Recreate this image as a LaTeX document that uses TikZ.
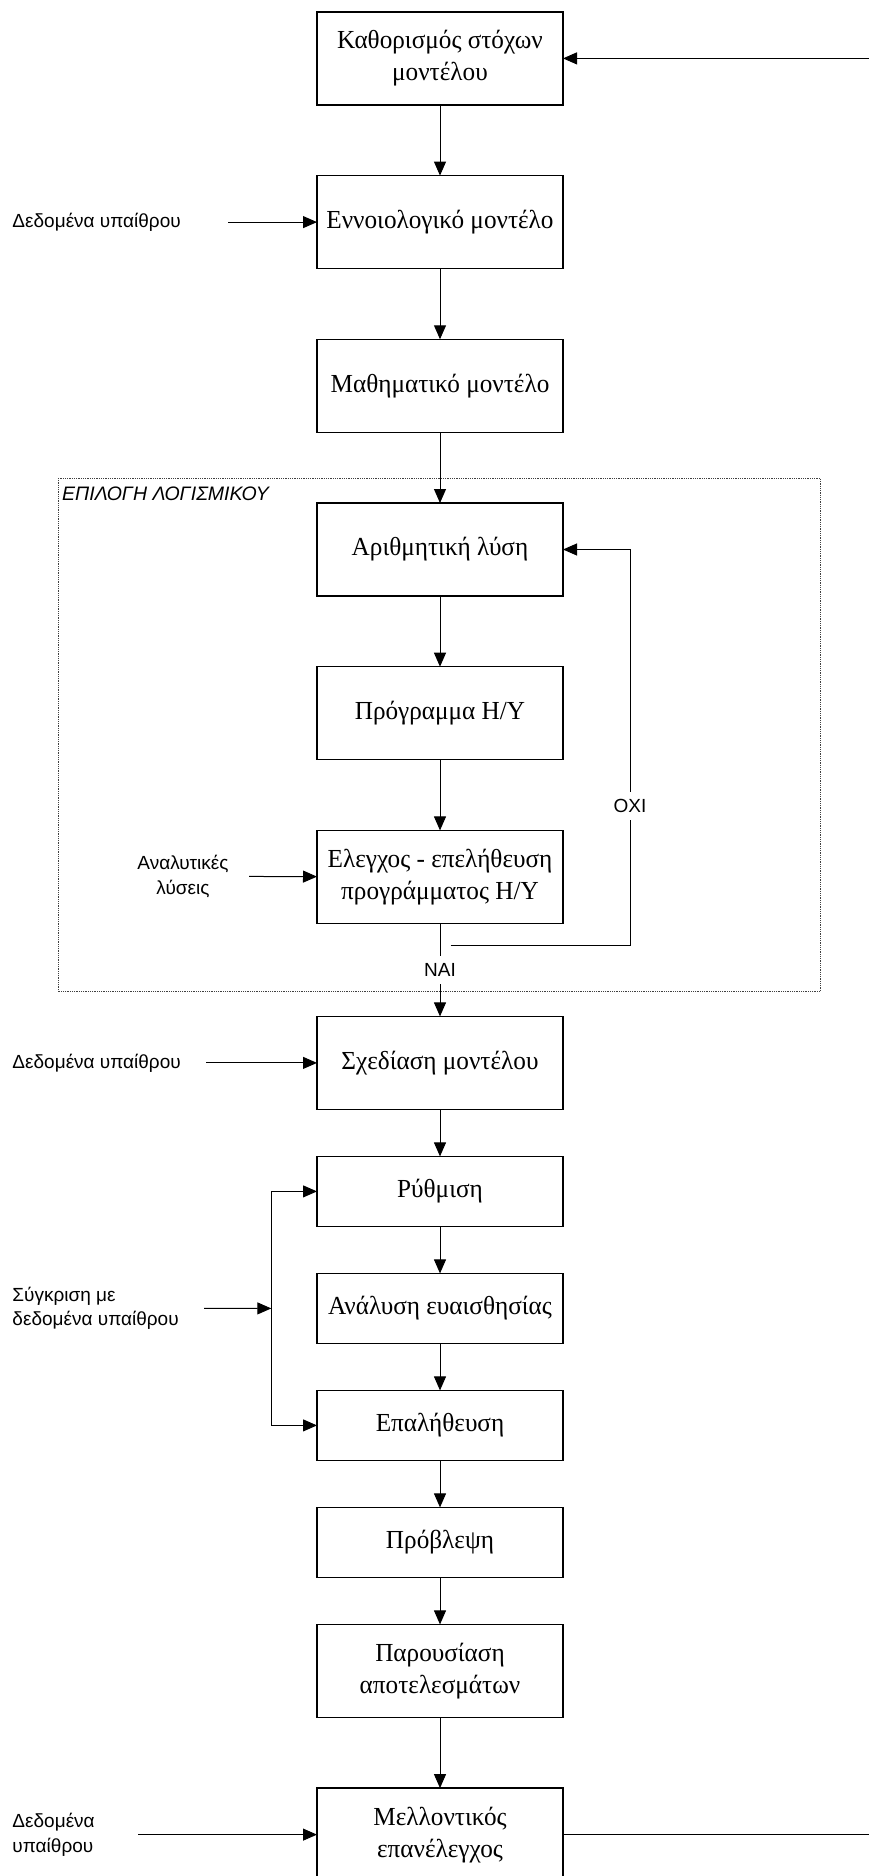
\documentclass[tikz,border=0pt]{standalone}
\usepackage{fontspec}
\setmainfont[FakeStretch=0.97]{Liberation Serif}
\setsansfont{Liberation Sans}
\usetikzlibrary{positioning,arrows.meta}

\begin{document}
\begin{tikzpicture}[x=1pt, y=1pt, node distance={70.7pt}, line width=1pt, >={Triangle[length=14pt,width=12pt]},
    box/.style = {draw, line width=1.3pt, outer sep=0pt, minimum width=246pt, minimum height=93pt, align=center, font=\fontsize{26}{32}\selectfont},
    short/.style = {box, minimum height=70pt},
    src/.style = {font=\sffamily\fontsize{19}{24.5}\selectfont, align=left, inner sep=0pt, anchor=west},
    lbl/.style = {font=\sffamily\fontsize{19}{22}\selectfont, fill=white, inner sep=0pt, minimum height=28pt}]
    \useasboundingbox (0,0) rectangle (868,-1876);
    \coordinate (lm) at (12,0);

    \node[box] (b1) at (440,-58.4) {Καθορισμός στόχων\\μοντέλου};
    \node[box] (b2) [below=of b1] {Εννοιολογικό μοντέλο};
    \node[box] (b3) [below=of b2] {Μαθηματικό μοντέλο};
    \node[box] (b4) [below=of b3] {Αριθμητική λύση};
    \node[box] (b5) [below=of b4] {Πρόγραμμα Η/Υ};
    \node[box] (b6) [below=of b5] {Ελεγχος - επελήθευση\\προγράμματος Η/Υ};
    \node[box] (b7) [below=93pt of b6] {Σχεδίαση μοντέλου};
    \node[short] (b8) [below=47pt of b7] {Ρύθμιση};
    \node[short] (b9) [below=47pt of b8] {Ανάλυση ευαισθησίας};
    \node[short] (b10) [below=47pt of b9] {Επαλήθευση};
    \node[short] (b11) [below=47pt of b10] {Πρόβλεψη};
    \node[box] (b12) [below=47pt of b11] {Παρουσίαση\\αποτελεσμάτων};
    \node[box] (b13) [below=of b12] {Μελλοντικός\\επανέλεγχος};

    % software frame
    \draw[densely dotted, line width=0.8pt, black!75] (58.3,-478) rectangle (820,-991.7);
    \node[anchor=base west, inner sep=0pt, font=\sffamily\itshape\fontsize{19.5}{22}\selectfont] (sw) at (61.7,-500.7) {ΕΠΙΛΟΓΗ ΛΟΓΙΣΜΙΚΟΥ};

    % inputs
    \node[src] (d2) at (lm |- b2) {Δεδομένα υπαίθρου};
    \node[src, align=center, anchor=center] (d6) at (183,-876.3) {Αναλυτικές\\λύσεις};
    \node[src] (d7) at (lm |- b7) {Δεδομένα υπαίθρου};
    \node[src] (d9) at (lm |- b9) {Σύγκριση με\\δεδομένα υπαίθρου};
    \node[src] (d13) at (lm |- b13) {Δεδομένα\\υπαίθρου};
    \coordinate (br) at (271.3,-1308.4);
    \coordinate (no) at (450.7,-945.7);
    \coordinate (nox) at (630,-945.7);
    \coordinate (back) at (900,-900);

    % main flow
    \draw[->] (b1) -- (b2);
    \draw[->] (b2) -- (b3);
    \draw[->] (b3) -- (b4);
    \draw[->] (b4) -- (b5);
    \draw[->] (b5) -- (b6);
    \draw[->] (b6) -- (b7) node [midway, lbl] {ΝΑΙ};
    \draw[->] (b7) -- (b8);
    \draw[->] (b8) -- (b9);
    \draw[->] (b9) -- (b10);
    \draw[->] (b10) -- (b11);
    \draw[->] (b11) -- (b12);
    \draw[->] (b12) -- (b13);

    % loops
    \draw[->] (no) -- (nox) -- node [pos=0.353, lbl] {ΟΧΙ} (nox |- b4) -- (b4);
    \draw[->] (b13) -| (back) |- (b1);
    \draw[->] (br) |- (b8);
    \draw[->] (br) |- (b10);

    % data in
    \draw[->, shorten <=47pt] (d2) -- (b2);
    \draw[->, shorten <=20pt] (d6) -- (b6);
    \draw[->, shorten <=25pt] (d7) -- (b7);
    \draw[->, shorten <=25pt] (d9) -- (br);
    \draw[->, shorten <=43pt] (d13) -- (b13);
\end{tikzpicture}
\end{document}
